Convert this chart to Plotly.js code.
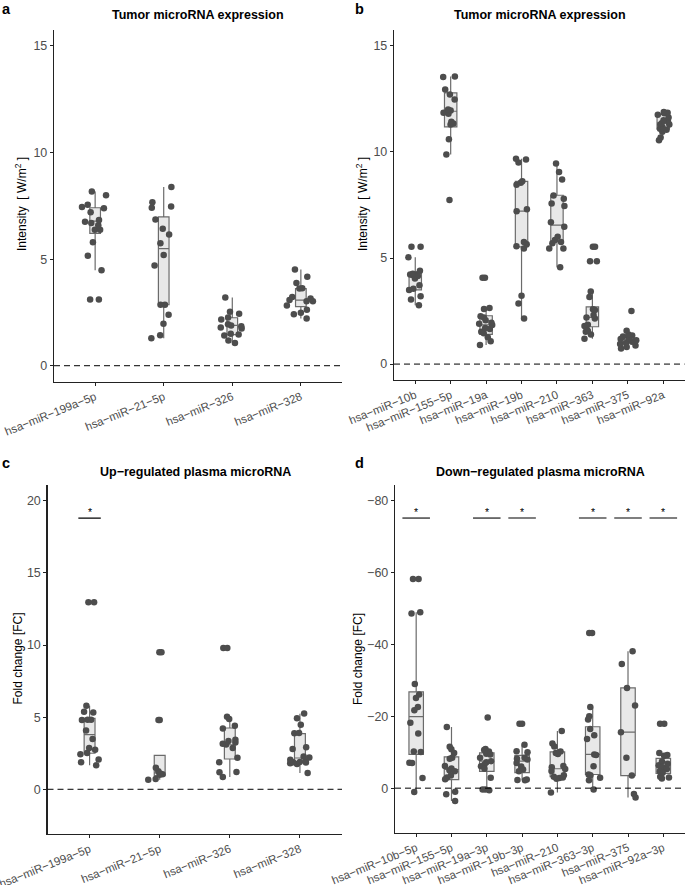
<!DOCTYPE html>
<html><head><meta charset="utf-8">
<script src="https://cdn.plot.ly/plotly-3.0.1.min.js"></script>
<style>html,body{margin:0;padding:0;background:#fff}#chart{width:685px;height:885px}</style>
</head><body><div id="chart"></div>
<script>
// ---------- Panel a : Tumor microRNA expression ----------
const aCats = ['hsa−miR−199a−5p','hsa−miR−21−5p','hsa−miR−326','hsa−miR−328'];
const aQ1     = [6.21, 2.86, 1.46, 2.77];
const aMedian = [6.78, 5.49, 1.89, 3.08];
const aQ3     = [7.41, 6.98, 2.25, 3.62];
const aLower  = [4.48, 1.29, 1.07, 2.22];
const aUpper  = [8.17, 8.38, 3.20, 4.51];
const a_199a5p = [8.17, 8.0, 7.55, 7.45, 7.39, 7.2, 6.84, 6.75, 6.7, 6.59, 6.38, 6.38, 5.79, 5.16, 4.48, 3.11, 3.11];
const a_21_5p  = [8.38, 7.67, 7.47, 7.41, 6.86, 6.42, 6.16, 5.74, 5.19, 4.7, 2.86, 2.86, 2.39, 1.97, 1.43, 1.29];
const a_326    = [3.2, 2.53, 2.44, 2.26, 2.17, 1.95, 1.89, 1.85, 1.79, 1.75, 1.5, 1.46, 1.42, 1.18, 1.07];
const a_328    = [4.51, 4.17, 3.88, 3.63, 3.62, 3.22, 3.15, 3.08, 3.03, 3.03, 2.83, 2.63, 2.48, 2.42, 2.22];

// ---------- Panel b : Tumor microRNA expression ----------
const bCats = ['hsa−miR−10b','hsa−miR−155−5p','hsa−miR−19a','hsa−miR−19b','hsa−miR−210','hsa−miR−363','hsa−miR−375','hsa−miR−92a'];
const bQ1     = [3.50, 11.18, 1.40, 5.53, 5.80, 1.76, 1.05, 11.07];
const bMedian = [4.12, 11.92, 1.85, 7.21, 6.55, 2.20, 1.16, 11.37];
const bQ3     = [4.30, 12.79, 2.28, 8.61, 7.96, 2.70, 1.37, 11.77];
const bLower  = [2.77, 9.88, 0.90, 2.15, 4.56, 1.19, 0.74, 10.84];
const bUpper  = [5.04, 13.56, 2.64, 9.68, 9.46, 3.42, 1.55, 11.85];
const b_10b    = [5.53, 5.53, 5.04, 4.4, 4.26, 4.24, 4.22, 4.2, 4.15, 4.04, 3.72, 3.55, 3.49, 3.2, 3.05, 2.77];
const b_155_5p = [13.56, 13.54, 12.95, 12.71, 12.47, 12.0, 11.95, 11.85, 11.8, 11.42, 11.34, 11.3, 10.6, 9.88, 7.73];
const b_19a    = [4.07, 4.07, 2.65, 2.6, 2.26, 2.2, 2.07, 1.95, 1.9, 1.84, 1.7, 1.66, 1.52, 1.45, 1.26, 1.08, 0.9];
const b_19b    = [9.68, 9.64, 9.5, 8.62, 8.55, 8.45, 7.3, 7.2, 5.75, 5.65, 5.55, 5.45, 3.22, 2.86, 2.15];
const b_210    = [9.46, 9.05, 8.7, 7.95, 7.8, 7.57, 7.45, 6.69, 6.47, 6.0, 5.85, 5.75, 5.7, 5.45, 5.45, 4.56];
const b_363    = [5.53, 5.53, 4.85, 4.85, 3.42, 3.16, 2.58, 2.55, 2.31, 2.2, 2.15, 1.85, 1.8, 1.79, 1.57, 1.52, 1.4, 1.19];
const b_375    = [2.5, 1.57, 1.4, 1.35, 1.3, 1.22, 1.18, 1.12, 1.08, 1.05, 1.0, 0.95, 0.88, 0.8, 0.74];
const b_92a    = [11.88, 11.85, 11.82, 11.75, 11.63, 11.5, 11.42, 11.35, 11.3, 11.28, 11.15, 11.1, 11.05, 10.95, 10.68, 10.55];

// ---------- Panel c : Up-regulated plasma microRNA ----------
const cCats = ['hsa−miR−199a−5p','hsa−miR−21−5p','hsa−miR−326','hsa−miR−328'];
const cQ1     = [2.50, 0.95, 2.10, 1.87];
const cMedian = [3.79, 1.13, 3.09, 2.17];
const cQ3     = [4.92, 2.35, 4.25, 3.86];
const cLower  = [1.66, 0.67, 0.86, 1.13];
const cUpper  = [5.79, 2.35, 5.00, 5.24];
const c_199a5p = [12.97, 12.97, 5.79, 5.38, 5.33, 4.82, 4.82, 4.8, 4.08, 3.49, 2.86, 2.75, 2.52, 2.43, 2.06, 1.87, 1.66];
const c_21_5p  = [9.51, 9.51, 4.8, 4.8, 1.5, 1.25, 1.1, 1.05, 1.0, 0.72, 0.67];
const c_326    = [9.79, 9.79, 5.03, 4.87, 4.41, 4.22, 3.44, 3.35, 3.25, 3.16, 3.1, 2.86, 2.19, 1.87, 1.2, 1.18, 0.86];
const c_328    = [5.26, 4.92, 4.48, 3.9, 3.88, 2.91, 2.8, 2.28, 2.2, 2.05, 1.95, 1.9, 1.88, 1.85, 1.8, 1.75, 1.13];
const cSigCats = ['hsa−miR−199a−5p'];
const cSigLevel = 18.8;

// ---------- Panel d : Down-regulated plasma microRNA ----------
const dCats = ['hsa−miR−10b−5p','hsa−miR−155−5p','hsa−miR−19a−3p','hsa−miR−19b−3p','hsa−miR−210','hsa−miR−363−3p','hsa−miR−375','hsa−miR−92a−3p'];
const dQ1     = [-26.8, -8.7, -9.8, -9.1, -10.1, -17.1, -27.9, -8.3];
const dMedian = [-19.9, -5.2, -7.5, -7.5, -5.4, -9.4, -15.6, -6.1];
const dQ3     = [-9.4, -2.4, -4.7, -4.3, -3.2, -3.8, -3.5, -4.1];
const dLower  = [-49.0, -17.0, -10.9, -12.1, -15.9, -22.7, -38.1, -9.8];
const dUpper  = [1.1, 3.6, 0.4, -2.3, 1.2, -0.3, 2.6, -2.6];
const d_10b_5p  = [-58.2, -58.2, -49.0, -48.6, -29.0, -26.1, -25.1, -22.6, -21.7, -18.2, -15.2, -10.2, -10.1, -7.1, -7.0, -2.8, 1.1];
const d_155_5p  = [-17.0, -11.5, -10.8, -9.8, -8.5, -8.2, -6.2, -5.5, -5.0, -4.7, -3.5, -3.0, -2.5, 1.0, 1.7, 3.6];
const d_19a_3p  = [-19.7, -10.9, -10.6, -10.2, -9.6, -9.4, -8.5, -7.5, -7.2, -6.6, -6.1, -5.4, -2.9, 0.4, 0.4, 0.6];
const d_19b_3p  = [-17.9, -17.9, -12.1, -10.3, -10.0, -8.5, -8.2, -8.0, -7.0, -6.0, -5.2, -4.7, -2.4, -2.3, -2.2];
const d_210     = [-15.9, -12.4, -11.6, -10.2, -9.8, -9.5, -6.2, -5.8, -5.3, -4.8, -3.6, -3.2, -3.0, -2.8, -2.6, 1.2];
const d_363_3p  = [-43.2, -43.2, -22.6, -20.0, -19.1, -16.5, -14.7, -13.7, -9.4, -9.2, -6.1, -3.8, -3.6, -2.9, -2.2, 0.4];
const d_375     = [-38.1, -34.6, -27.9, -23.0, -15.6, -8.5, -3.5, 1.6, 2.6];
const d_92a_3p  = [-17.9, -17.9, -9.8, -9.2, -9.0, -7.4, -6.8, -6.4, -6.1, -5.8, -5.3, -4.7, -4.3, -3.2, -3.0, -2.7];
const dSigCats = ['hsa−miR−10b−5p','hsa−miR−19a−3p','hsa−miR−19b−3p','hsa−miR−363−3p','hsa−miR−375','hsa−miR−92a−3p'];
const dSigLevel = -75.2;

// ---------- styling ----------
const FONT = 'Liberation Sans, Arial, Helvetica, sans-serif';
const PT_COLOR = '#4D4D4D';
const BOX_LINE = '#6B6B6B';
const BOX_FILL = '#E8E8E8';
const AXIS_COLOR = '#222';

function flatten(cats, groups) {
  const xs = [], ys = [];
  groups.forEach((g, i) => g.forEach(v => { xs.push(cats[i]); ys.push(v); }));
  return {xs, ys};
}

function panelTraces(cats, q1, med, q3, lo, hi, groups, xa, ya, boxW, jitW) {
  const stats = {
    type: 'box', x: cats, q1: q1, median: med, q3: q3, lowerfence: lo, upperfence: hi,
    boxpoints: false, width: boxW, whiskerwidth: 0,
    fillcolor: BOX_FILL, line: {color: BOX_LINE, width: 1.2},
    xaxis: xa, yaxis: ya, showlegend: false, hoverinfo: 'skip'
  };
  const f = flatten(cats, groups);
  const pts = {
    type: 'box', x: f.xs, y: f.ys, boxpoints: 'all', jitter: 1, pointpos: 0,
    width: jitW, fillcolor: 'rgba(0,0,0,0)', line: {color: 'rgba(0,0,0,0)', width: 0},
    whiskerwidth: 0,
    marker: {color: PT_COLOR, size: 6.5, line: {width: 0}},
    xaxis: xa, yaxis: ya, showlegend: false, hoverinfo: 'skip'
  };
  return [stats, pts];
}

const traces = [].concat(
  panelTraces(aCats, aQ1, aMedian, aQ3, aLower, aUpper, [a_199a5p, a_21_5p, a_326, a_328], 'x', 'y', 0.155, 0.42),
  panelTraces(bCats, bQ1, bMedian, bQ3, bLower, bUpper, [b_10b, b_155_5p, b_19a, b_19b, b_210, b_363, b_375, b_92a], 'x2', 'y2', 0.35, 0.5),
  panelTraces(cCats, cQ1, cMedian, cQ3, cLower, cUpper, [c_199a5p, c_21_5p, c_326, c_328], 'x3', 'y3', 0.155, 0.38),
  panelTraces(dCats, dQ1, dMedian, dQ3, dLower, dUpper, [d_10b_5p, d_155_5p, d_19a_3p, d_19b_3p, d_210, d_363_3p, d_375, d_92a_3p], 'x4', 'y4', 0.41, 0.45)
);

function xAxis(cats, domain, anchor) {
  return {
    domain: domain, anchor: anchor, type: 'category',
    categoryorder: 'array', categoryarray: cats,
    tickmode: 'array', tickvals: cats, ticktext: cats,
    range: [-0.6, cats.length - 0.4],
    tickangle: -22, ticks: 'outside', ticklen: 3, tickwidth: 1, tickcolor: AXIS_COLOR,
    showline: true, linecolor: AXIS_COLOR, linewidth: 1.2,
    showgrid: false, zeroline: false, automargin: false,
    tickfont: {family: FONT, size: 11.5, color: PT_COLOR}
  };
}
function yAxis(domain, anchor, range, tickvals) {
  return {
    domain: domain, anchor: anchor, range: range, tickmode: 'array', tickvals: tickvals,
    ticks: 'outside', ticklen: 3, tickwidth: 1, tickcolor: AXIS_COLOR,
    showline: true, linecolor: AXIS_COLOR, linewidth: 1.2,
    showgrid: false, zeroline: false, automargin: false,
    tickfont: {family: FONT, size: 12.5, color: PT_COLOR}
  };
}

const W = 685, H = 885;
const px = v => v / W;
const py = v => 1 - v / H;

const shapes = [];
// dashed zero lines
['', '2', '3', '4'].forEach(s => {
  shapes.push({type: 'line', xref: 'x' + s + ' domain', yref: 'y' + s, x0: 0, x1: 1, y0: 0, y1: 0,
    line: {color: '#000', width: 1, dash: '6px,4px'}});
});
// significance bars
const annotations = [];
function sig(cats, sigCats, level, half, xa, ya) {
  sigCats.forEach(c => {
    const i = cats.indexOf(c);
    shapes.push({type: 'line', xref: xa, yref: ya, x0: i - half, x1: i + half, y0: level, y1: level,
      line: {color: '#000', width: 1.1}});
    annotations.push({xref: xa, yref: ya, x: c, y: level, text: '*', showarrow: false,
      yanchor: 'bottom', yshift: -2, font: {family: FONT, size: 10.5, color: '#000'}});
  });
}
sig(cCats, cSigCats, cSigLevel, 0.16, 'x3', 'y3');
sig(dCats, dSigCats, dSigLevel, 0.39, 'x4', 'y4');

function txt(text, x, y, size, bold, angle) {
  annotations.push({xref: 'paper', yref: 'paper', x: px(x), y: py(y), text: bold ? '<b>' + text + '</b>' : text,
    showarrow: false, xanchor: 'center', yanchor: 'middle', textangle: angle || 0,
    font: {family: FONT, size: size, color: '#000'}});
}
// titles
txt('Tumor microRNA expression', 198, 15.5, 12.5, true);
txt('Tumor microRNA expression', 539.5, 15.5, 12.5, true);
txt('Up−regulated plasma microRNA', 195, 472, 12.5, true);
txt('Down−regulated plasma microRNA', 540, 472, 12.5, true);
// panel letters
txt('a', 6, 9.5, 14.5, true);
txt('b', 359, 9.5, 14.5, true);
txt('c', 6, 463, 14.5, true);
txt('d', 359, 463, 14.5, true);
// y axis titles
txt('Intensity  [ W/m<sup>2</sup> ]', 21, 204, 12, false, -90);
txt('Intensity  [ W/m<sup>2</sup> ]', 362, 204, 12, false, -90);
txt('Fold change [FC]', 17.5, 659, 12, false, -90);
txt('Fold change [FC]', 358, 659, 12, false, -90);

const layout = {
  width: W, height: H, margin: {l: 0, r: 0, t: 0, b: 0},
  paper_bgcolor: '#fff', plot_bgcolor: '#fff', boxmode: 'overlay', showlegend: false,
  font: {family: FONT},
  xaxis:  xAxis(aCats, [px(54), px(342)], 'y'),
  yaxis:  yAxis([py(381.7), py(30)], 'x', [-0.75, 15.75], [0, 5, 10, 15]),
  xaxis2: xAxis(bCats, [px(394), px(684.5)], 'y2'),
  yaxis2: yAxis([py(380), py(30)], 'x2', [-0.75, 15.75], [0, 5, 10, 15]),
  xaxis3: xAxis(cCats, [px(47.5), px(342)], 'y3'),
  yaxis3: yAxis([py(834), py(485)], 'x3', [-3.1, 21.1], [0, 5, 10, 15, 20]),
  xaxis4: xAxis(dCats, [px(395), px(684.5)], 'y4'),
  yaxis4: yAxis([py(832.7), py(485)], 'x4', [12.4, -84.4], [0, -20, -40, -60, -80]),
  shapes: shapes, annotations: annotations
};

Plotly.newPlot('chart', traces, layout, {staticPlot: true, displayModeBar: false});
</script>
</body></html>
